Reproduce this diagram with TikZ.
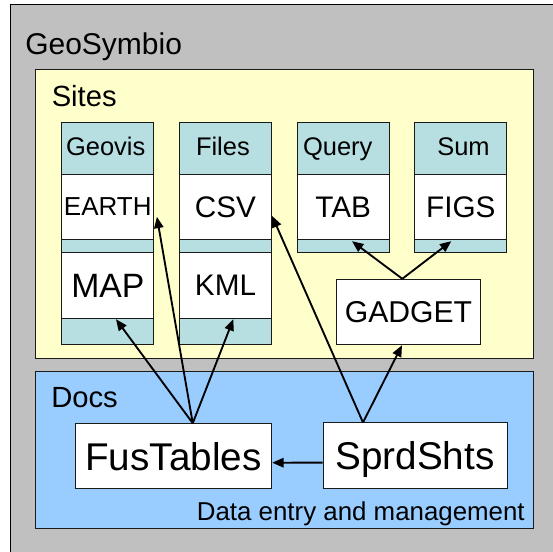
\documentclass[tikz,border=0pt]{standalone}
\usepackage{fontspec}
\setmainfont{Liberation Sans}
\usetikzlibrary{arrows.meta,calc}
\definecolor{outergray}{HTML}{C0C0C0}
\definecolor{siteyellow}{HTML}{FFFFCC}
\definecolor{tealpale}{HTML}{B7DEE1}
\definecolor{docblue}{HTML}{99CCFF}
\definecolor{edgecol}{HTML}{1A1A1A}
\newcommand{\fs}[1]{\fontsize{#1}{#1}\selectfont}
\begin{document}
\begin{tikzpicture}[x=0.75pt,y=-0.75pt,
  box/.style={draw=edgecol,line width=0.75pt,fill=white,inner sep=0pt,text depth=0pt},
  colbg/.style={draw=edgecol,line width=0.75pt,fill=tealpale,inner sep=0pt,minimum width=68.8pt},
  hdr/.style={anchor=base,inner sep=0pt,font=\fs{19.1pt}},
  title/.style={anchor=base west,inner sep=0pt},
  arr/.style={line width=1.4pt,-{Triangle[length=8.5pt,width=7pt]}},
  ]
\useasboundingbox (0,0) rectangle (553,552);
\clip (0,0) rectangle (553,552);
\fill[white] (0,0) rectangle (553,552);
% outer frame
\draw[fill=outergray,draw=black,line width=0.75pt] (10,4.3) rectangle (600,600);
\node[title,font=\fs{22.5pt}] (geo) at (25,55) {GeoSymbio};
% Sites
\draw[draw=edgecol,fill=siteyellow,line width=0.75pt] (35.7,70) rectangle (533,358);
\node[title,font=\fs{21.9pt}] (sites) at (51.5,107) {Sites};
% Docs
\draw[draw=edgecol,fill=docblue,line width=0.75pt] (35.7,371) rectangle (533,528);
\node[title,font=\fs{21.9pt}] (docs) at (51,407.7) {Docs};
\node[anchor=base east,inner sep=0pt,font=\fs{19.4pt}] (dem) at (525,520.3) {Data entry and management};
% column backgrounds
\node[colbg,minimum height=166.5pt] (col1) at (107.8,233.3) {};
\node[colbg,minimum height=166.5pt] (col2) at (225.5,233.3) {};
\node[colbg,minimum height=97.5pt] (col3) at (343.2,187.3) {};
\node[colbg,minimum height=97.5pt] (col4) at (460.8,187.3) {};
% headers
\node[hdr] (h1) at (105.7,155.7) {Geovis};
\node[hdr] (h2) at (222.9,155.7) {Files};
\node[hdr] (h3) at (337.7,155.7) {Query};
\node[hdr] (h4) at (463.5,155.7) {Sum};
% upper white boxes
\node[box,minimum width=68.8pt,minimum height=48.75pt,font=\fs{19.5pt}] (earth) at (107.8,206.8) {EARTH};
\node[box,minimum width=68.8pt,minimum height=48.75pt,font=\fs{22.3pt}] (csv) at (225.5,206.8) {CSV};
\node[box,minimum width=68.8pt,minimum height=48.75pt,font=\fs{22.3pt}] (tab) at (343.2,206.8) {TAB};
\node[box,minimum width=68.8pt,minimum height=48.75pt,font=\fs{22.3pt}] (figs) at (460.8,206.8) {FIGS};
% lower white boxes
\node[box,minimum width=68.8pt,minimum height=49.8pt,font=\fs{25.3pt}] (map) at (107.8,285.5) {MAP};
\node[box,minimum width=68.8pt,minimum height=49.8pt,font=\fs{22.3pt}] (kml) at (225.5,285.5) {KML};
\node[box,minimum width=108.3pt,minimum height=49.05pt,font=\fs{22.6pt}] (gadget) at (408.5,312) {GADGET};
% docs boxes
\node[box,minimum width=147.5pt,minimum height=48.75pt,font=\fs{29pt}] (fus) at (173.35,456.2) {FusTables};
\node[box,minimum width=138pt,minimum height=49.3pt,font=\fs{29pt}] (sprd) at (415,455.85) {SprdShts};
% arrows
\draw[arr] ($(fus.north)+(19.4,0)$) -- ($(map.south)+(8.2,0)$);
\draw[arr] ($(fus.north)+(19.4,0)$) -- ($(earth.east)+(2.7,10)$);
\draw[arr] ($(fus.north)+(19.4,0)$) -- ($(kml.south)+(7.8,0)$);
\draw[arr] ($(sprd.north)+(-52,0)$) -- ($(csv.east)+(0.3,9.2)$);
\draw[arr] ($(sprd.north)+(-52,0)$) -- ($(gadget.south)+(-6.5,0)$);
\draw[arr] ($(gadget.north)+(-6.2,0)$) -- ($(tab.south)+(8.8,1.4)$);
\draw[arr] ($(gadget.north)+(-6.2,0)$) -- ($(figs.south)+(-9.5,1.4)$);
\draw[arr] ($(sprd.west)+(0,6.8)$) -- ($(fus.east)+(0,6.5)$);
\end{tikzpicture}
\end{document}
